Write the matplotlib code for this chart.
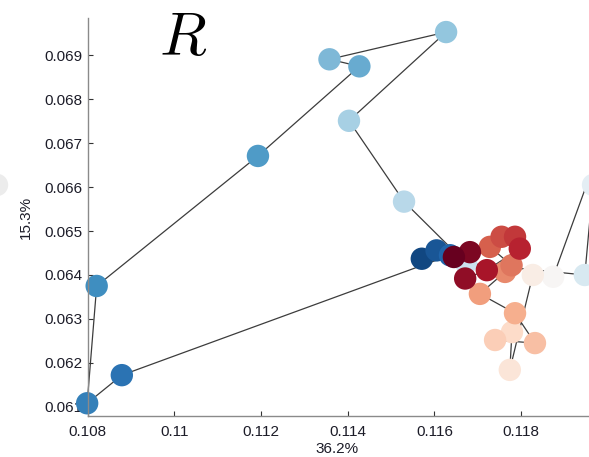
import matplotlib
matplotlib.use("Agg")
import matplotlib.pyplot as plt
from matplotlib.colors import Normalize
import numpy as np

plt.rcParams['font.family'] = ['Liberation Sans', 'DejaVu Sans']
plt.rcParams['mathtext.fontset'] = 'cm'

# trajectory (time-ordered), x = component 1 (36.2%), y = component 2 (15.3%)
traj_x = [0.11571, 0.11605, 0.11636, 0.10879, 0.10799, 0.10821, 0.11193, 0.11427,
          0.11358, 0.11627, 0.11403, 0.11530, 0.11673, 0.11947, 0.11966, 0.12010,
          0.11874, 0.11827, 0.11774, 0.11779, 0.11740, 0.11832, 0.11786, 0.11705,
          0.11763, 0.11778, 0.11728, 0.11755, 0.11786, 0.11797, 0.11721, 0.11671,
          0.11682, 0.11645]
traj_y = [0.06437, 0.06456, 0.06445, 0.06172, 0.06108, 0.06375, 0.06671, 0.06875,
          0.06891, 0.06953, 0.06751, 0.06567, 0.06427, 0.06400, 0.06605, 0.06765,
          0.06396, 0.06400, 0.06184, 0.06270, 0.06252, 0.06245, 0.06313, 0.06357,
          0.06407, 0.06422, 0.06464, 0.06487, 0.06487, 0.06460, 0.06411, 0.06392,
          0.06452, 0.06441]
time_idx = list(range(len(traj_x)))

# point of the neighbouring panel that shows at the left edge
nb_x = [0.10591]
nb_y = [0.06605]

x_ticks = [0.108, 0.110, 0.112, 0.114, 0.116, 0.118]
x_tick_labels = ['0.108', '0.11', '0.112', '0.114', '0.116', '0.118']
y_ticks = [0.061, 0.062, 0.063, 0.064, 0.065, 0.066, 0.067, 0.068, 0.069]
y_tick_labels = ['0.061', '0.062', '0.063', '0.064', '0.065', '0.066', '0.067', '0.068', '0.069']

fig = plt.figure(figsize=(5.89, 4.57), dpi=100)
ax = fig.add_axes([0.1487, 0.0897, 0.9936, 0.8709])

ax.plot(traj_x, traj_y, color='#3c3c3c', lw=0.9, zorder=1, clip_on=False)
norm = Normalize(vmin=-1.5, vmax=len(traj_x) - 1)
ax.scatter(traj_x, traj_y, c=time_idx, cmap='RdBu_r', norm=norm, s=260,
           edgecolors='none', zorder=2, clip_on=False)
ax.scatter(nb_x, nb_y, color='#ececec', s=260, edgecolors='none',
           zorder=2, clip_on=False)

ax.set_xlim(0.108, 0.1215)
ax.set_ylim(0.06079, 0.06985)
ax.set_xticks(x_ticks)
ax.set_xticklabels(x_tick_labels)
ax.set_yticks(y_ticks)
ax.set_yticklabels(y_tick_labels)

for s in ['top', 'right']:
    ax.spines[s].set_visible(False)
for s in ['left', 'bottom']:
    ax.spines[s].set_color('#8a8a8a')
    ax.spines[s].set_linewidth(1.0)

ax.tick_params(axis='both', direction='in', length=3.5, width=0.8,
               color='#333333', labelsize=11, labelcolor='#1c1c28')
ax.tick_params(axis='x', pad=6.5)
ax.tick_params(axis='y', pad=3.5)

ax.set_xlabel('36.2%', fontsize=11, color='#1c1c28')
ax.xaxis.set_label_coords(0.426, -0.066)
ax.set_ylabel('15.3%', fontsize=11, color='#1c1c28')
ax.yaxis.set_label_coords(-0.0928, 0.5)

fig.text(183 / 589, 1 - 55 / 457, r'$R$', fontsize=44, ha='center',
         va='baseline', color='black')

fig.savefig('out.png', dpi=100)
